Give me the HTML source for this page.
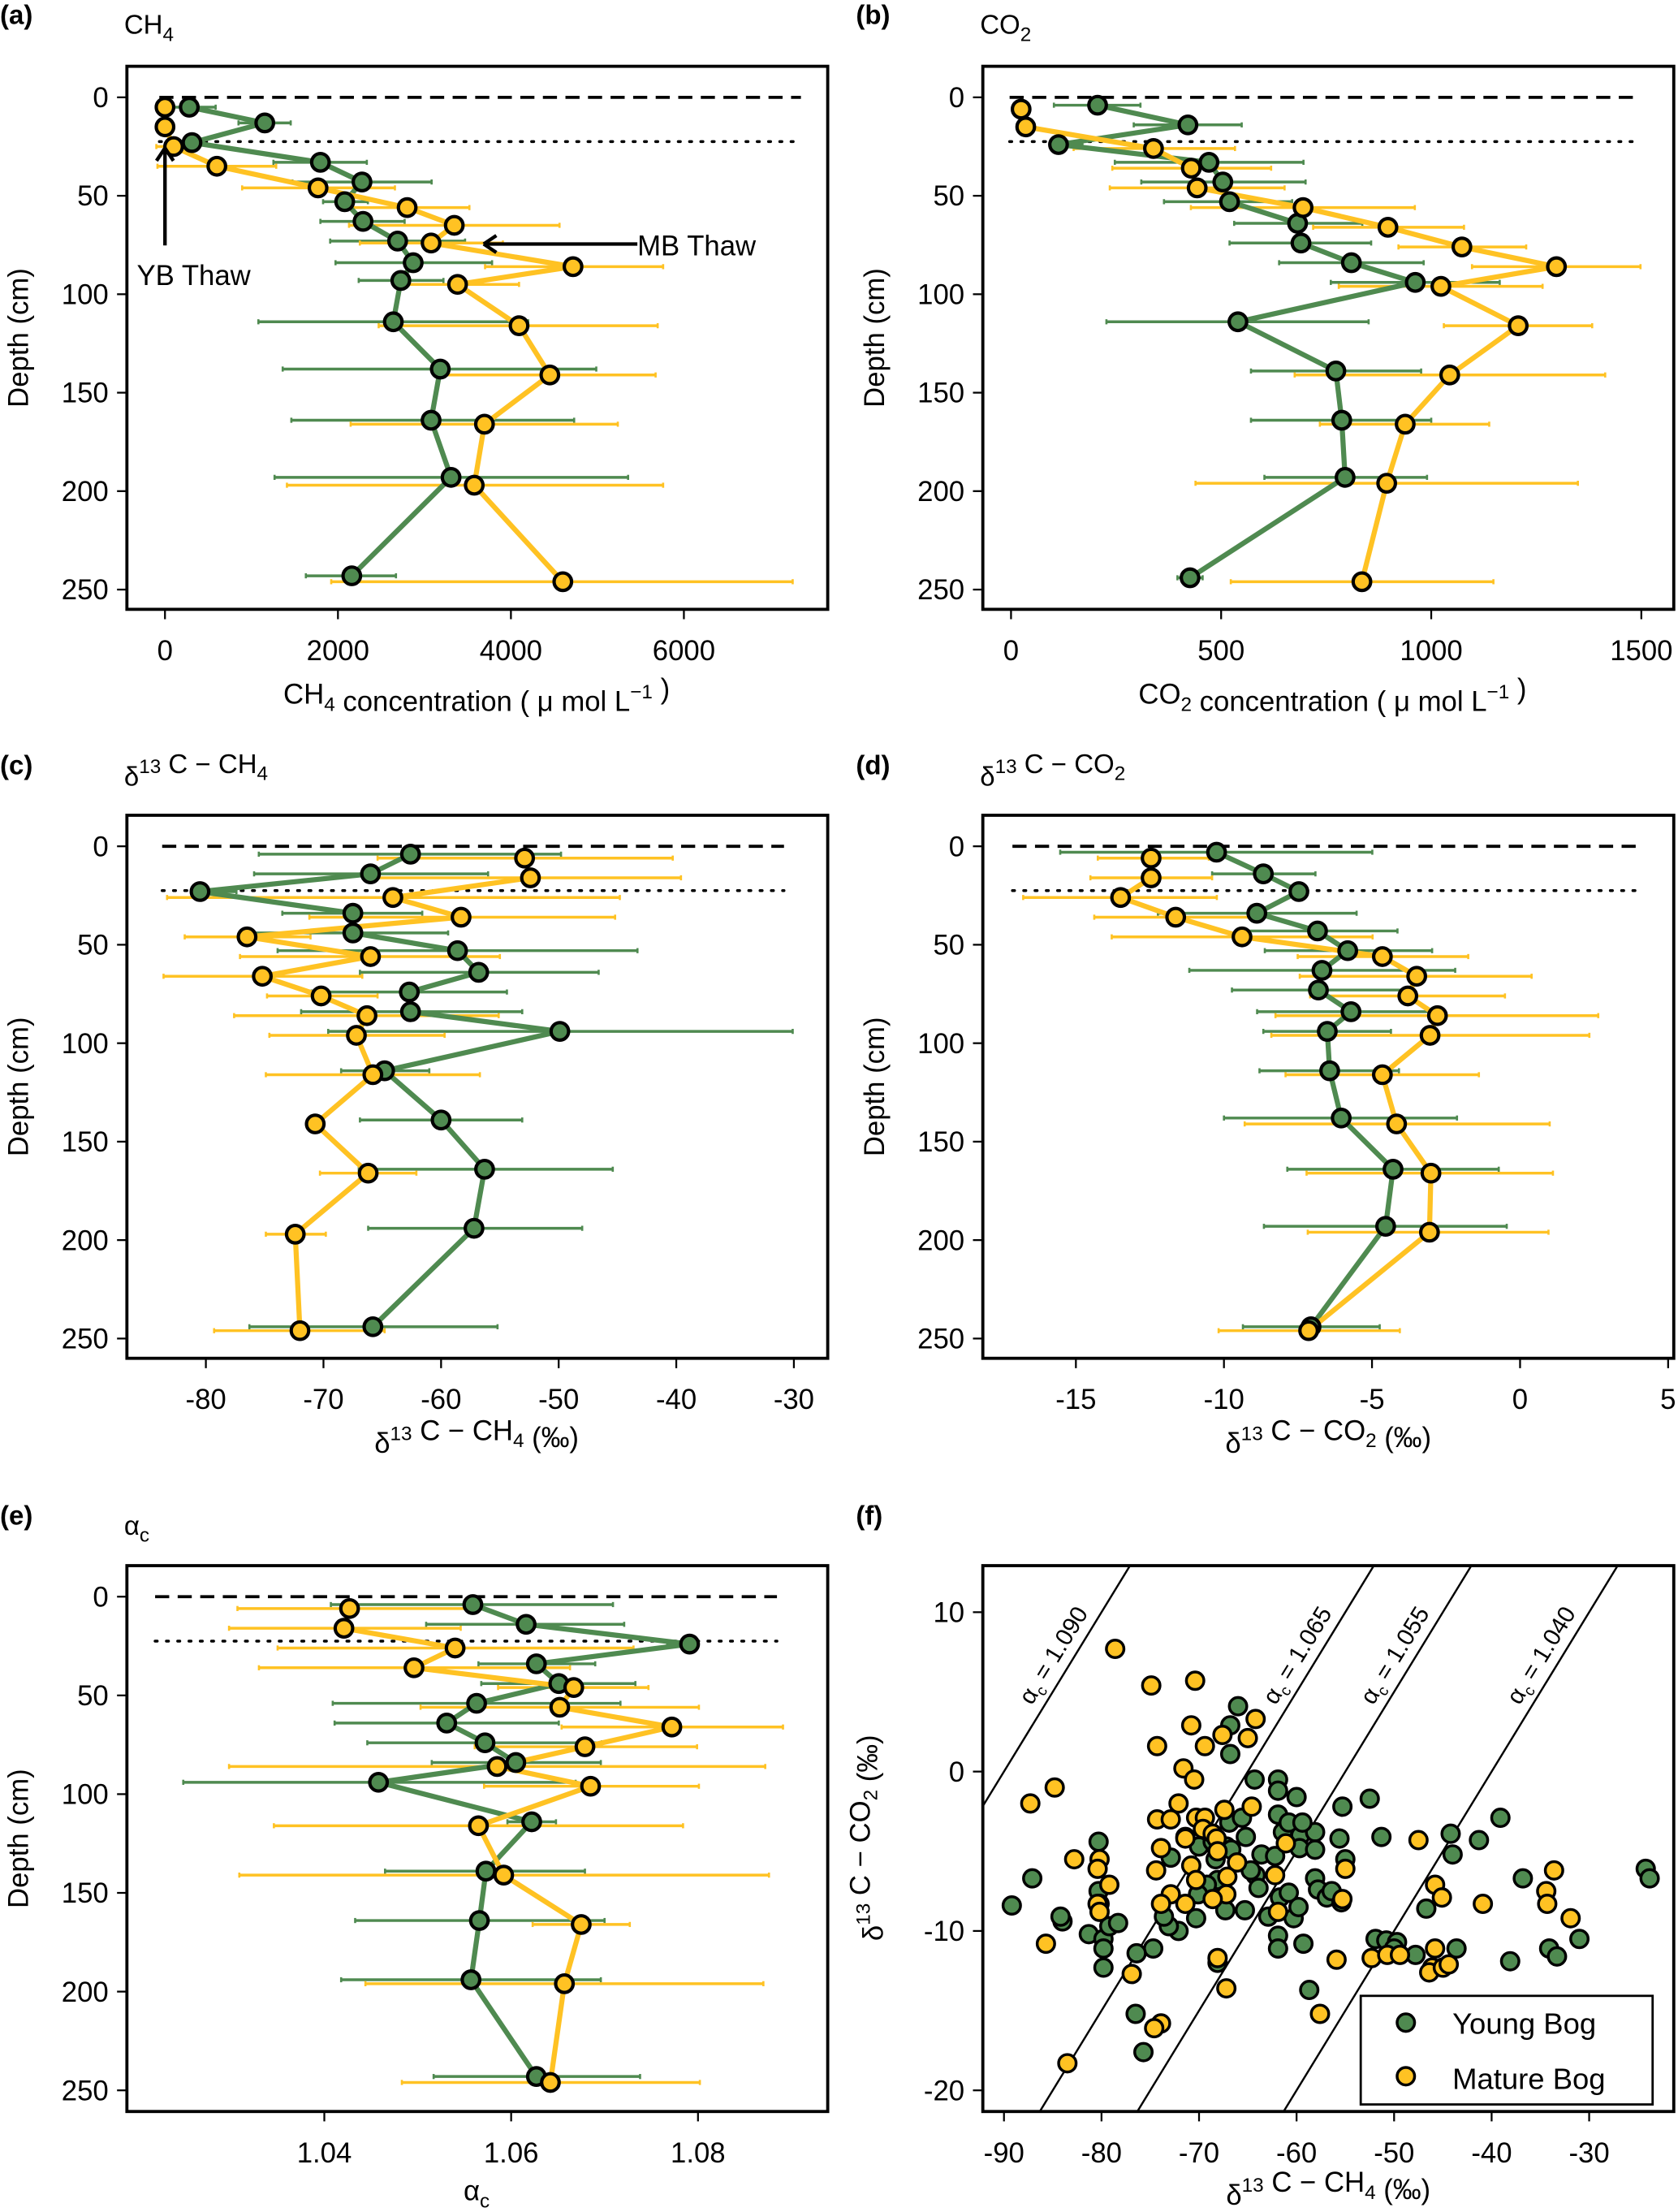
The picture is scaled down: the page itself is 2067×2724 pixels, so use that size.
<!DOCTYPE html>
<html><head><meta charset="utf-8"><style>
html,body{margin:0;padding:0;background:#fff;width:2067px;height:2724px;overflow:hidden;}
svg{display:block;font-family:"Liberation Sans",Arial,sans-serif;}
</style></head><body>
<svg id="fig" xmlns="http://www.w3.org/2000/svg" width="2067" height="2724" viewBox="0 0 1190 1568.25">
<rect x="0" y="0" width="1190" height="1568.25" fill="#fff"/>
</svg>
<script>
// ---------- Panel (a) CH4 concentration ----------
const aDepthG=[5,13,23,33,43,53,63,73,84,93,114,138,164,193,243];
const aValG=[281,1154,312,1797,2278,2078,2290,2690,2870,2727,2640,3183,3077,3308,2160];
const aLoG=[6,850,150,1254,1473,1828,1797,1910,1972,2240,1080,1361,1461,1267,1629];
const aHiG=[586,1454,450,2334,3083,2346,2771,3470,3782,3220,4200,4987,4731,5355,2671];
const aDepthY=[5,15,25,35,46,56,65,74,86,95,116,141,166,197,246];
const aValY=[0,0,100,600,1770,2800,3345,3077,4718,3383,4094,4450,3694,3576,4600];
const aLoY=[0,0,-100,-87,892,2097,2128,2253,3701,2815,2471,3220,2147,1410,1922];
const aHiY=[0,0,300,1286,2659,3520,4562,3907,5760,4094,5697,5673,5236,5760,7258];
const aTicks=[0,2000,4000,6000];
// ---------- Panel (b) CO2 concentration ----------
const bDepthG=[4,14,24,33,43,53,64,74,84,94,114,139,164,193,244];
const bValG=[206,421,113,471,504,520,682,690,810,962,540,773,787,795,426];
const bLoG=[102,292,113,247,310,364,531,520,638,761,227,571,571,603,396];
const bHiG=[308,549,170,696,701,669,836,857,982,1163,851,976,1000,990,456];
const bDepthY=[6,15,26,36,46,56,66,76,86,96,116,141,166,196,246];
const bValY=[24,35,339,429,443,695,897,1073,1298,1023,1207,1044,938,894,835];
const bLoY=[24,35,149,241,235,428,719,922,1097,780,1030,675,735,439,523];
const bHiY=[24,35,533,619,651,961,1078,1226,1498,1265,1383,1414,1138,1349,1148];
const bTicks=[0,500,1000,1500];
// ---------- Panel (c) d13C-CH4 ----------
const cDepthG=[4,14,23,34,44,53,64,74,84,94,114,139,164,194,244];
const cValG=[-62.6,-66.0,-80.5,-67.5,-67.5,-58.6,-56.8,-62.7,-62.6,-49.9,-64.8,-60.0,-56.3,-57.2,-65.8];
const cLoG=[-75.5,-75.9,-80.5,-73.5,-75.9,-73.9,-66.9,-71,-71.9,-69.6,-68.5,-66.9,-67,-66.2,-76.3];
const cHiG=[-49.8,-56,-77.4,-61.6,-59.4,-43.3,-46.6,-54.4,-53.1,-30.1,-61,-53.1,-45.4,-48,-55.2];
const cDepthY=[6,16,26,36,46,56,66,76,86,96,116,141,166,197,246];
const cValY=[-52.9,-52.4,-64.1,-58.3,-76.5,-66.0,-75.2,-70.2,-66.3,-67.2,-65.8,-70.7,-66.2,-72.4,-72.0];
const cLoY=[-65.4,-65.4,-83.3,-71.2,-81.8,-77.1,-83.6,-74.8,-77.6,-74.6,-74.9,-70.7,-70.3,-74.9,-79.3];
const cHiY=[-40.3,-39.6,-44.8,-45.2,-71.1,-55,-66.7,-65.4,-55.1,-59.7,-56.7,-70.7,-62.1,-69.8,-64.8];
const cTicks=[-80,-70,-60,-50,-40,-30];
// ---------- Panel (d) d13C-CO2 ----------
const dDepthG=[3,14,23,34,43,53,63,73,84,94,114,138,164,193,244];
const dValG=[-10.25,-8.67,-7.47,-8.89,-6.84,-5.82,-6.69,-6.81,-5.71,-6.51,-6.43,-6.04,-4.29,-4.54,-7.06];
const dLoG=[-15.53,-10.4,-7.47,-12.23,-9.54,-8.62,-11.17,-9.73,-8.88,-8.67,-8.8,-10,-7.86,-8.65,-9.36];
const dHiG=[-4.99,-6.91,-7.47,-5.52,-4.14,-2.97,-2.19,-3.91,-2.79,-4.36,-4.09,-2.13,-0.72,-0.45,-4.74];
const dDepthY=[6,16,26,36,46,56,66,76,86,96,116,141,166,196,246];
const dValY=[-12.46,-12.46,-13.49,-11.63,-9.39,-4.65,-3.49,-3.79,-2.79,-3.04,-4.65,-4.17,-3.01,-3.06,-7.14];
const dLoY=[-14.26,-14.51,-16.78,-14.38,-13.79,-7.51,-7.44,-7.09,-8.26,-8.4,-7.92,-9.3,-7.21,-7.17,-10.18];
const dHiY=[-10.51,-10.4,-10.24,-8.89,-4.98,-1.75,0.39,-0.51,2.64,2.34,-1.39,1.0,1.11,0.96,-4.06];
const dTicks=[-15,-10,-5,0,5];
// ---------- Panel (e) alpha_c ----------
const eDepthG=[4,14,24,34,44,54,64,74,84,94,114,139,164,194,243];
const eValG=[1.0559,1.0616,1.0791,1.0627,1.0651,1.0563,1.0531,1.0572,1.0605,1.0458,1.0622,1.0573,1.0566,1.0557,1.0627];
const eLoG=[1.0407,1.0509,1.0767,1.0565,1.0568,1.0409,1.0411,1.0446,1.0515,1.0249,1.0596,1.0465,1.0433,1.0418,1.0517];
const eHiG=[1.0709,1.0721,1.0791,1.069,1.0733,1.0717,1.0651,1.0697,1.0696,1.0669,1.0648,1.0679,1.07,1.0696,1.0738];
const eDepthY=[6,16,26,36,46,56,66,76,86,96,116,141,166,196,246];
const eValY=[1.0427,1.0421,1.054,1.0496,1.0667,1.0652,1.0772,1.0679,1.0585,1.0685,1.0565,1.0592,1.0675,1.0657,1.0642];
const eLoY=[1.0307,1.0298,1.035,1.033,1.0586,1.0503,1.0654,1.0561,1.0298,1.0571,1.0346,1.0309,1.0623,1.0444,1.0483];
const eHiY=[1.0564,1.0546,1.0731,1.0663,1.0747,1.0801,1.0891,1.0799,1.0872,1.0801,1.0784,1.0876,1.0727,1.087,1.0802];
const eTicks=[1.04,1.06,1.08];
const depthTicks=[0,50,100,150,200,250];
// ---------- Panel (f) scatter ----------
const fXG=[-66.0,-66.8,-66.8,-64.3,-61.9,-61.9,-60.0,-55.3,-52.5,-51.3,-44.2,-39.1,-41.3,-44.0,-36.8,-24.2,-23.8,-46.7,-51.9,-50.8,-49.7,-50.0,-43.6,-47.8,-38.1,-34.1,-33.3,-31.0,-58.7,-59.3,-61.9,-61.9,-60.3,-62.9,-65.3,-67.3,-70.3,-72.1,-73.1,-74.7,-76.4,-76.5,-75.7,-80.3,-80.3,-80.2,-81.3,-79.8,-79.8,-79.8,-79.2,-78.3,-84.0,-84.2,-87.1,-89.2,-72.9,-71.4,-70.0,-68.3,-68.1,-67.2,-66.9,-65.6,-65.2,-64.2,-63.9,-63.6,-62.2,-61.7,-60.8,-59.8,-59.8,-59.6,-59.7,-61.4,-58.1,-58.1,-58.1,-57.8,-56.9,-56.4,-55.6,-55.0,-55.4,-68.1,-69.2,-70.1,-73.6,-64.7,-66.7,-68.6,-61.9,-60.8,-59.4];
const fYG=[4.1,2.9,1.1,-0.5,-0.5,-1.2,-1.6,-2.2,-1.7,-4.1,-3.9,-2.9,-4.3,-5.2,-6.7,-6.1,-6.7,-8.6,-10.5,-10.6,-10.7,-11.1,-11.1,-11.5,-11.9,-11.1,-11.6,-10.5,-13.7,-10.8,-10.3,-11.1,-9.2,-9.1,-8.7,-8.7,-9.2,-10.0,-9.7,-11.1,-11.4,-15.2,-17.6,-4.4,-7.5,-8.3,-10.2,-10.5,-11.1,-12.3,-9.7,-9.5,-9.4,-9.1,-6.7,-8.4,-5.4,-4.1,-4.7,-5.5,-6.8,-4.7,-3.2,-2.9,-4.1,-6.5,-7.3,-5.2,-5.3,-7.9,-7.6,-8.5,-3.5,-4.0,-4.8,-3.8,-3.8,-4.9,-6.7,-7.4,-7.9,-7.5,-4.2,-5.5,-8.2,-12.0,-7.1,-7.7,-9.1,-6.2,-4.9,-4.4,-2.7,-3.2,-3.2];
const fXY=[-78.6,-74.9,-70.4,-70.8,-74.3,-69.4,-67.6,-65.0,-64.2,-71.6,-70.5,-84.8,-87.3,-72.1,-74.3,-72.9,-70.3,-69.4,-67.4,-64.6,-73.9,-74.4,-71.4,-70.8,-70.3,-69.6,-68.6,-68.2,-68.1,-66.1,-67.1,-67.2,-68.6,-71.4,-72.9,-73.9,-82.8,-80.2,-80.4,-79.2,-80.4,-80.2,-85.7,-76.9,-73.9,-74.6,-83.5,-68.1,-67.2,-62.2,-61.9,-61.1,-57.6,-55.9,-55.0,-55.3,-52.3,-50.7,-49.4,-47.5,-45.8,-45.1,-45.8,-46.1,-46.4,-45.0,-44.4,-40.9,-34.4,-34.3,-33.6,-31.9];
const fYY=[7.7,5.4,5.7,2.9,1.6,1.6,2.3,2.1,3.3,0.2,-0.5,-1.0,-2.0,-2.0,-3.0,-3.0,-2.9,-2.9,-2.4,-2.2,-4.8,-6.2,-4.2,-5.9,-6.8,-3.6,-3.9,-4.2,-5.0,-5.7,-6.6,-7.7,-8.0,-8.3,-7.7,-8.3,-5.5,-5.5,-6.1,-7.1,-8.3,-8.8,-10.8,-12.7,-15.8,-16.1,-18.3,-11.7,-13.6,-6.5,-8.8,-4.5,-15.2,-11.8,-6.1,-8.0,-11.7,-11.5,-11.5,-4.3,-7.1,-7.9,-11.1,-12.3,-12.6,-12.3,-12.1,-8.3,-7.5,-8.3,-6.2,-9.2];
const fAlphas=[1.090,1.065,1.055,1.040];
const fAlphaLabels=["1.090","1.065","1.055","1.040"];
const fXTicks=[-90,-80,-70,-60,-50,-40,-30];
const fYTicks=[10,0,-10,-20];

const NS="http://www.w3.org/2000/svg";
const svg=document.getElementById('fig');
const GREEN="#4f8a50", YELLOW="#ffc223";
function mk(tag,attrs,parent){const e=document.createElementNS(NS,tag);for(const k in attrs)e.setAttribute(k,attrs[k]);(parent||svg).appendChild(e);return e;}
function txt(x,y,s,opts,parent){const t=mk('text',Object.assign({x:x,y:y,'font-size':19,fill:'#000'},opts||{}),parent);t.textContent=s;return t;}
function linScale(d0,d1,p0,p1){return v=>p0+(v-d0)*(p1-p0)/(d1-d0);}

function depthPanel(id,box,xs,ys,ticks,fmt,G,Y){
  const g=mk('g',{});
  
  
  const dl=mk('line',{x1:box.dx0,x2:box.dx1,y1:ys(0),y2:ys(0),stroke:'#000','stroke-width':2.2,'stroke-dasharray':'10 6'},g);
  
  
  const dt=mk('line',{x1:box.dx0,x2:box.dx1,y1:ys(22.5),y2:ys(22.5),stroke:'#000','stroke-width':2,'stroke-dasharray':'1.5 6.5','stroke-linecap':'round'},g);
  
  
  const series=[[G,GREEN,'young-bog'],[Y,YELLOW,'mature-bog']];
  series.forEach(([S,c,nm])=>{
    S.d.forEach((d,i)=>{
      if(S.hi[i]===S.lo[i])return;
      const e=mk('line',{x1:xs(S.lo[i]),x2:xs(S.hi[i]),y1:ys(d),y2:ys(d),stroke:c,'stroke-width':2},g);
      
      
      [S.lo[i],S.hi[i]].forEach(v=>{const cap=mk('line',{x1:xs(v),x2:xs(v),y1:ys(d)-1.8,y2:ys(d)+1.8,stroke:c,'stroke-width':1.5},g);
        
        });
    });
  });
  series.forEach(([S,c,nm])=>{
    const pts=S.d.map((d,i)=>xs(S.v[i]).toFixed(2)+','+ys(d).toFixed(2)).join(' ');
    const pl=mk('polyline',{points:pts,fill:'none',stroke:c,'stroke-width':3.6,'stroke-linejoin':'round'},g);
    
    
  });
  series.forEach(([S,c,nm])=>{
    S.d.forEach((d,i)=>{
      const p=mk('circle',{cx:xs(S.v[i]),cy:ys(d),r:6.2,fill:c,stroke:'#000','stroke-width':2.4},g);
      
      
    });
  });
  const fr=mk('rect',{x:box.x0,y:box.y0,width:box.x1-box.x0,height:box.y1-box.y0,fill:'none',stroke:'#000','stroke-width':2.2},g);
  
  
  ticks.forEach(t=>{
    const tl=mk('line',{x1:xs(t),x2:xs(t),y1:box.y1,y2:box.y1+7,stroke:'#000','stroke-width':1.3},g);
    
    
    const lb=txt(xs(t),box.y1+36,fmt(t),{'text-anchor':'middle','font-size':20},g);
    
    
  });
  depthTicks.forEach(t=>{
    const tl=mk('line',{x1:box.x0-7,x2:box.x0,y1:ys(t),y2:ys(t),stroke:'#000','stroke-width':1.3},g);
    
    
    const lb=txt(box.x0-13,ys(t)+7,String(t),{'text-anchor':'end','font-size':20},g);
    
    
  });
  const yt=txt(0,0,'Depth (cm)',{'text-anchor':'middle','font-size':20,transform:`translate(${box.x0-70},${(box.y0+box.y1)/2}) rotate(-90)`},g);
  
  
  return g;
}

const f0=v=>String(v);
{const box={x0:90,x1:587,y0:47,y1:432,dx0:113,dx1:568};
 depthPanel('ch4',box,linScale(0,6000,117,485),linScale(0,250,69,418),aTicks,f0,
  {d:aDepthG,v:aValG,lo:aLoG,hi:aHiG},{d:aDepthY,v:aValY,lo:aLoY,hi:aHiY});}
{const box={x0:697,x1:1187,y0:47,y1:432,dx0:716,dx1:1162};
 depthPanel('co2',box,linScale(0,1500,717,1164),linScale(0,250,69,418),bTicks,f0,
  {d:bDepthG,v:bValG,lo:bLoG,hi:bHiG},{d:bDepthY,v:bValY,lo:bLoY,hi:bHiY});}
{const box={x0:90,x1:587,y0:578,y1:963,dx0:115,dx1:556};
 depthPanel('d13c-ch4',box,linScale(-80,-30,146,563),linScale(0,250,600,949),cTicks,f0,
  {d:cDepthG,v:cValG,lo:cLoG,hi:cHiG},{d:cDepthY,v:cValY,lo:cLoY,hi:cHiY});}
{const box={x0:697,x1:1187,y0:578,y1:963,dx0:718,dx1:1163};
 depthPanel('d13c-co2',box,linScale(-15,5,763,1183),linScale(0,250,600,949),dTicks,f0,
  {d:dDepthG,v:dValG,lo:dLoG,hi:dHiG},{d:dDepthY,v:dValY,lo:dLoY,hi:dHiY});}
{const box={x0:90,x1:587,y0:1110,y1:1497,dx0:110,dx1:551};
 depthPanel('alpha-c',box,linScale(1.04,1.08,230,495),linScale(0,250,1132,1482),eTicks,v=>v.toFixed(2),
  {d:eDepthG,v:eValG,lo:eLoG,hi:eHiG},{d:eDepthY,v:eValY,lo:eLoY,hi:eHiY});}

{
 const box={x0:697,x1:1187,y0:1110,y1:1497};
 const xs=linScale(-90,-30,712,1127), ys=linScale(10,-20,1143,1482);
 const g=mk('g',{});
 
 
 const defs=mk('defs',{},g);
 const cp=mk('clipPath',{id:'fclip'},defs);
 mk('rect',{x:box.x0,y:box.y0,width:box.x1-box.x0,height:box.y1-box.y0},cp);
 const lg=mk('g',{'clip-path':'url(#fclip)'},g);
 fAlphas.forEach((a,i)=>{
   const off=(a-1)*1000;
   const xa=-100,xb=-20;
   const l=mk('line',{x1:xs(xa),y1:ys(xa+off),x2:xs(xb),y2:ys(xb+off),stroke:'#000','stroke-width':1.4},lg);
   
   
   const yv=4.3, xv=yv-off;
   const px=xs(xv)-10, py=ys(yv)+2;
   const t=mk('text',{x:0,y:0,'font-size':17,transform:`translate(${px},${py}) rotate(-58.5)`},g);
   
   
   t.innerHTML='α<tspan font-size="11" dy="4">c</tspan><tspan dy="-4"> = '+fAlphaLabels[i]+'</tspan>';
 });
 [[fXG,fYG,GREEN,'young-bog-point'],[fXY,fYY,YELLOW,'mature-bog-point']].forEach(([X,Y,c,nm])=>{
   X.forEach((x,i)=>{
     const p=mk('circle',{cx:xs(x),cy:ys(Y[i]),r:6.2,fill:c,stroke:'#000','stroke-width':2},g);
     
     
   });
 });
 const fr=mk('rect',{x:box.x0,y:box.y0,width:box.x1-box.x0,height:box.y1-box.y0,fill:'none',stroke:'#000','stroke-width':2.2},g);
 
 
 fXTicks.forEach(t=>{
   const tl=mk('line',{x1:xs(t),x2:xs(t),y1:box.y1,y2:box.y1+7,stroke:'#000','stroke-width':1.3},g);
   
   
   const lb=txt(xs(t),box.y1+36,String(t),{'text-anchor':'middle','font-size':20},g);
   
   
 });
 fYTicks.forEach(t=>{
   const tl=mk('line',{x1:box.x0-7,x2:box.x0,y1:ys(t),y2:ys(t),stroke:'#000','stroke-width':1.3},g);
   
   
   const lb=txt(box.x0-13,ys(t)+7,String(t),{'text-anchor':'end','font-size':20},g);
   
   
 });
 const leg=mk('g',{},g);
 
 
 mk('rect',{x:965,y:1415,width:207,height:77,fill:'#fff',stroke:'#000','stroke-width':1.6},leg);
 const e1=mk('circle',{cx:997,cy:1434,r:6.2,fill:GREEN,stroke:'#000','stroke-width':2},leg);
 
 
 const t1=txt(1030,1442,'Young Bog',{'font-size':21},leg);
 
 
 const e2=mk('circle',{cx:997,cy:1472,r:6.2,fill:YELLOW,stroke:'#000','stroke-width':2},leg);
 
 
 const t2=txt(1030,1481,'Mature Bog',{'font-size':21},leg);
 
 
}
</script>
<script>
(function(){
 const NS="http://www.w3.org/2000/svg", svg=document.getElementById('fig');
 function T(x,y,html,name,extra){const t=document.createElementNS(NS,'text');t.setAttribute('x',x);t.setAttribute('y',y);t.setAttribute('font-size',(extra&&extra.fs)||20);
  if(extra&&extra.anchor)t.setAttribute('text-anchor',extra.anchor);
  if(extra&&extra.bold)t.setAttribute('font-weight','bold');
  if(extra&&extra.tr)t.setAttribute('transform',extra.tr);
  t.innerHTML=html;
  
  
  svg.appendChild(t);return t;}
 const sub=s=>`<tspan font-size="14" dy="5">${s}</tspan><tspan dy="-5"></tspan>`;
 const sup=s=>`<tspan font-size="14" dy="-9">${s}</tspan><tspan dy="9"></tspan>`;
 T(0,17,'(a)','panel-label-a',{bold:1,fs:19});
 T(607,17,'(b)','panel-label-b',{bold:1,fs:19});
 T(0,549,'(c)','panel-label-c',{bold:1,fs:19});
 T(607,549,'(d)','panel-label-d',{bold:1,fs:19});
 T(0,1081,'(e)','panel-label-e',{bold:1,fs:19});
 T(607,1081,'(f)','panel-label-f',{bold:1,fs:19});
 T(88,24,'CH'+sub('4'),'panel-title-ch4',{fs:19});
 T(695,24,'CO'+sub('2'),'panel-title-co2',{fs:19});
 T(88,557,'δ'+sup('13')+' C − CH'+sub('4'),'panel-title-d13c-ch4',{fs:19});
 T(695,557,'δ'+sup('13')+' C − CO'+sub('2'),'panel-title-d13c-co2',{fs:19});
 T(88,1088,'α'+sub('c'),'panel-title-alpha-c',{fs:19});
 T(338,499,'CH'+sub('4')+' concentration ( μ mol L'+sup('−1')+' )','x-axis-title-ch4',{anchor:'middle'});
 T(945,499,'CO'+sub('2')+' concentration ( μ mol L'+sup('−1')+' )','x-axis-title-co2',{anchor:'middle'});
 T(338,1030,'δ'+sup('13')+' C − CH'+sub('4')+' (‰)','x-axis-title-d13c-ch4',{anchor:'middle'});
 T(942,1030,'δ'+sup('13')+' C − CO'+sub('2')+' (‰)','x-axis-title-d13c-co2',{anchor:'middle'});
 T(338,1560,'α'+sub('c'),'x-axis-title-alpha-c',{anchor:'middle'});
 T(942,1563,'δ'+sup('13')+' C − CH'+sub('4')+' (‰)','x-axis-title-scatter',{anchor:'middle'});
 T(0,0,'δ'+sup('13')+' C − CO'+sub('2')+' (‰)','y-axis-title-scatter',{anchor:'middle',tr:'translate(626,1303) rotate(-90)'});
 function L(x1,y1,x2,y2,name){const l=document.createElementNS(NS,'line');
  l.setAttribute('x1',x1);l.setAttribute('y1',y1);l.setAttribute('x2',x2);l.setAttribute('y2',y2);
  l.setAttribute('stroke','#000');l.setAttribute('stroke-width',2.5);
  
  
  svg.appendChild(l);}
 L(117,174,117,106,'yb-thaw-arrow');
 L(111,114,117,105,'yb-thaw-arrow-head-left');L(123,114,117,105,'yb-thaw-arrow-head-right');
 L(452,173,344,173,'mb-thaw-arrow');
 L(352,167,343,173,'mb-thaw-arrow-head-top');L(352,179,343,173,'mb-thaw-arrow-head-bottom');
 T(97,202,'YB Thaw','yb-thaw-label',{fs:20});
 T(452,181,'MB Thaw','mb-thaw-label',{fs:20});
})();
</script>
</body></html>
